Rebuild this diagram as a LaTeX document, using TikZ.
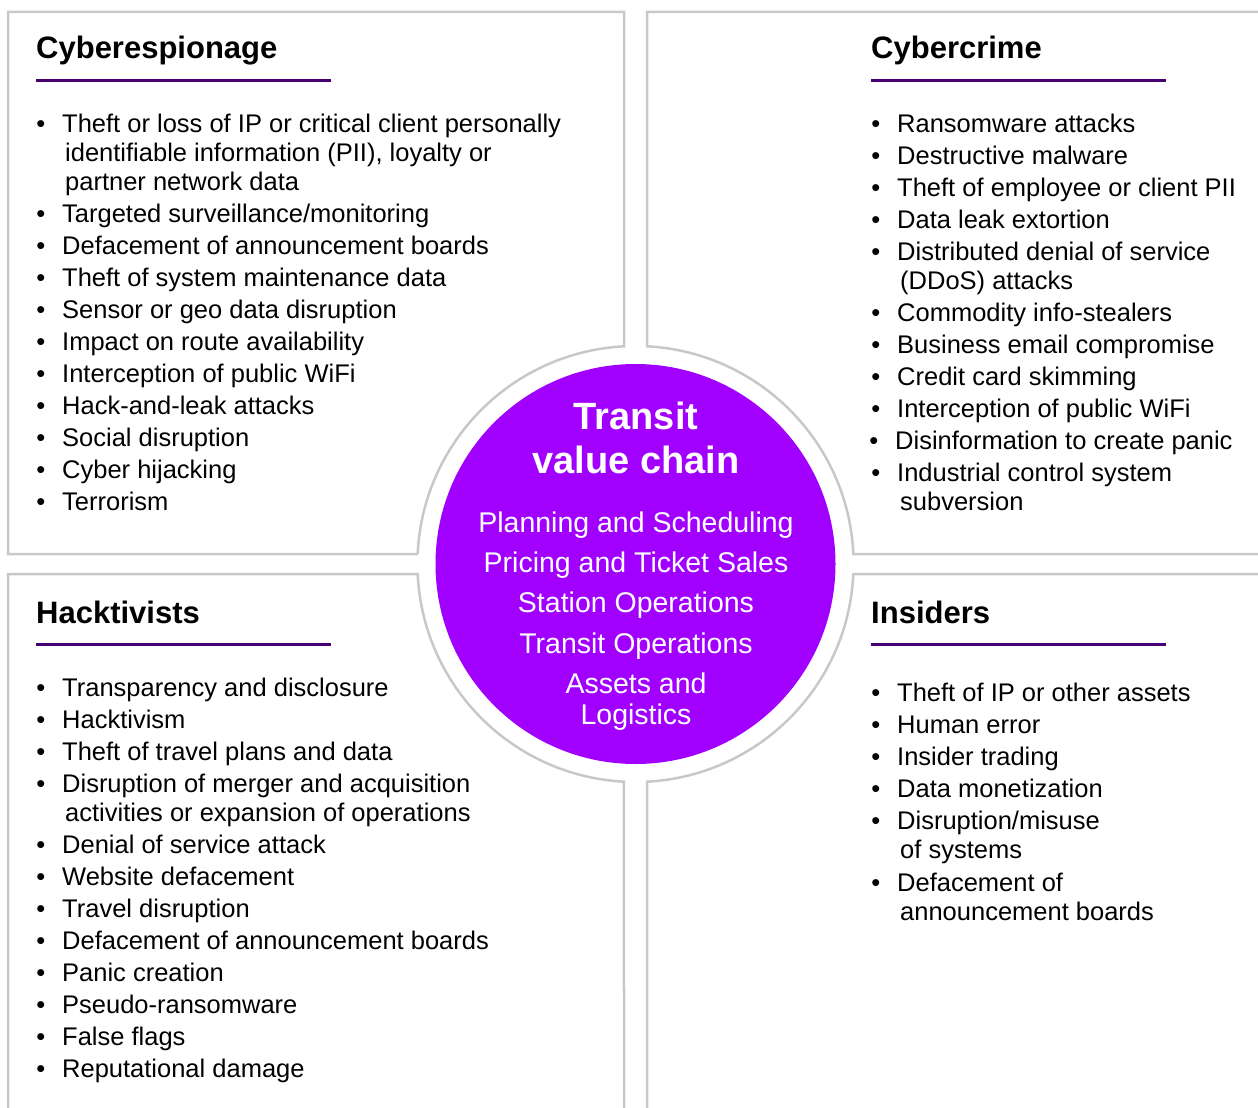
\documentclass[tikz,border=0pt]{standalone}
\usepackage{fontspec}
\setmainfont{Liberation Sans}
\begin{document}
\begin{tikzpicture}[x=1pt,y=-1pt]
\newcommand{\leftcol}{62}
\newcommand{\rightcol}{897}
\newcommand{\bul}{\llap{\textbullet\hspace{17pt}}}
\definecolor{ringgray}{RGB}{200,200,200}
\definecolor{corepurple}{RGB}{161,0,255}
\definecolor{darkpurple}{RGB}{70,0,115}
\tikzstyle{border}=[ringgray,line width=2.5pt]
\tikzstyle{rule}=[darkpurple,line width=3pt]
\tikzstyle{heading}=[anchor=base west,inner sep=0pt,font=\fontsize{31}{36}\selectfont\bfseries]
\tikzstyle{entry}=[anchor=base west,inner sep=0pt,align=left,font=\fontsize{25.5}{29}\selectfont]
\tikzstyle{hub}=[circle,fill=corepurple,minimum size=400pt,inner sep=0pt]
\tikzstyle{hubtext}=[white,anchor=base,inner sep=0pt,align=center,font=\fontsize{28.5}{31}\selectfont]
\tikzstyle{hubtitle}=[hubtext,font=\fontsize{38}{44}\selectfont\bfseries]
\useasboundingbox (0,0) rectangle (1258,1108);
\draw[border] (417.7,554) -- (8,554) -- (8,12) -- (624,12) -- (624,346.3) arc[start angle=267, end angle=182.6, radius=218];
\draw[border] (1258,12) -- (647,12) -- (647,346.3) arc[start angle=-87, end angle=-2.63, radius=218] -- (1258,554);
\draw[border] (8,1108) -- (8,574) -- (417.7,574) arc[start angle=177.37, end angle=93.02, radius=218] -- (624,1108);
\draw[border] (1258,574) -- (853.3,574) arc[start angle=2.63, end angle=86.98, radius=218] -- (647,1108);
\node[hub] (hub) at (635.5,564) {};
\node[hubtitle] (title) at (636,473) {Transit\\value chain};
\node[hubtext] (plan) at (636,532) {Planning and Scheduling};
\node[hubtext] (price) at (636,572) {Pricing and Ticket Sales};
\node[hubtext] (station) at (636,612) {Station Operations};
\node[hubtext] (transit) at (636,653) {Transit Operations};
\node[hubtext] (assets) at (636,724) {Assets and\\Logistics};
\node[heading] (esp) at (36,59) {Cyberespionage};
\draw[rule] (36,80) -- (331,80);
\node[entry] (esp1) at (\leftcol,190) {\bul Theft or loss of IP or critical client personally\\\hspace*{3pt}identifiable information (PII), loyalty or\\\hspace*{3pt}partner network data};
\node[entry] (esp2) at (\leftcol,222) {\bul Targeted surveillance/monitoring};
\node[entry] (esp3) at (\leftcol,254) {\bul Defacement of announcement boards};
\node[entry] (esp4) at (\leftcol,286) {\bul Theft of system maintenance data};
\node[entry] (esp5) at (\leftcol,318) {\bul Sensor or geo data disruption};
\node[entry] (esp6) at (\leftcol,350) {\bul Impact on route availability};
\node[entry] (esp7) at (\leftcol,382) {\bul Interception of public WiFi};
\node[entry] (esp8) at (\leftcol,414) {\bul Hack-and-leak attacks};
\node[entry] (esp9) at (\leftcol,446) {\bul Social disruption};
\node[entry] (esp10) at (\leftcol,478) {\bul Cyber hijacking};
\node[entry] (esp11) at (\leftcol,510) {\bul Terrorism};
\node[heading] (crime) at (871,59) {Cybercrime};
\draw[rule] (871,80) -- (1166,80);
\node[entry] (crime1) at (\rightcol,132) {\bul Ransomware attacks};
\node[entry] (crime2) at (\rightcol,164) {\bul Destructive malware};
\node[entry] (crime3) at (\rightcol,196) {\bul Theft of employee or client PII};
\node[entry] (crime4) at (\rightcol,228) {\bul Data leak extortion};
\node[entry] (crime5) at (\rightcol,289) {\bul Distributed denial of service\\\hspace*{3pt}(DDoS) attacks};
\node[entry] (crime6) at (\rightcol,321) {\bul Commodity info-stealers};
\node[entry] (crime7) at (\rightcol,353) {\bul Business email compromise};
\node[entry] (crime8) at (\rightcol,385) {\bul Credit card skimming};
\node[entry] (crime9) at (\rightcol,417) {\bul Interception of public WiFi};
\node[entry] (crime10) at (895,449) {\bul Disinformation to create panic};
\node[entry] (crime11) at (\rightcol,510) {\bul Industrial control system\\\hspace*{3pt}subversion};
\node[heading] (hack) at (36,623) {Hacktivists};
\draw[rule] (36,644) -- (331,644);
\node[entry] (hack1) at (\leftcol,696) {\bul Transparency and disclosure};
\node[entry] (hack2) at (\leftcol,728) {\bul Hacktivism};
\node[entry] (hack3) at (\leftcol,760) {\bul Theft of travel plans and data};
\node[entry] (hack4) at (\leftcol,821) {\bul Disruption of merger and acquisition\\\hspace*{3pt}activities or expansion of operations};
\node[entry] (hack5) at (\leftcol,853) {\bul Denial of service attack};
\node[entry] (hack6) at (\leftcol,885) {\bul Website defacement};
\node[entry] (hack7) at (\leftcol,917) {\bul Travel disruption};
\node[entry] (hack8) at (\leftcol,949) {\bul Defacement of announcement boards};
\node[entry] (hack9) at (\leftcol,981) {\bul Panic creation};
\node[entry] (hack10) at (\leftcol,1013) {\bul Pseudo-ransomware};
\node[entry] (hack11) at (\leftcol,1045) {\bul False flags};
\node[entry] (hack12) at (\leftcol,1077) {\bul Reputational damage};
\node[heading] (ins) at (871,623) {Insiders};
\draw[rule] (871,644) -- (1166,644);
\node[entry] (ins1) at (\rightcol,701) {\bul Theft of IP or other assets};
\node[entry] (ins2) at (\rightcol,733) {\bul Human error};
\node[entry] (ins3) at (\rightcol,765) {\bul Insider trading};
\node[entry] (ins4) at (\rightcol,797) {\bul Data monetization};
\node[entry] (ins5) at (\rightcol,858) {\bul Disruption/misuse\\\hspace*{3pt}of systems};
\node[entry] (ins6) at (\rightcol,920) {\bul Defacement of\\\hspace*{3pt}announcement boards};
\end{tikzpicture}
\end{document}
